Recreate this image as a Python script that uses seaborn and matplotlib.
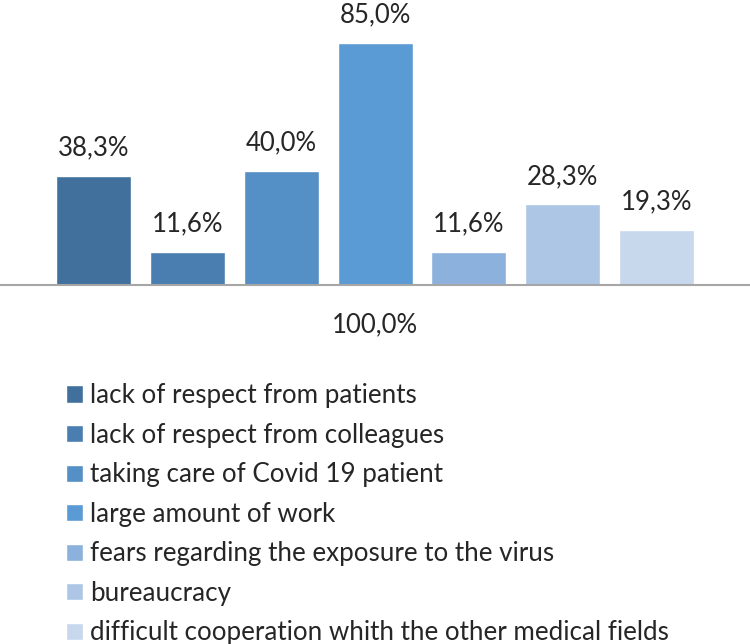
import matplotlib
matplotlib.use("Agg")
import matplotlib.pyplot as plt
import pandas as pd
import seaborn as sns

# data
category = "100,0%"
reasons = [
    "lack of respect from patients",
    "lack of respect from colleagues",
    "taking care of Covid 19 patient",
    "large amount of work",
    "fears regarding the exposure to the virus",
    "bureaucracy",
    "difficult cooperation whith the other medical fields",
]
values = [38.3, 11.6, 40.0, 85.0, 11.6, 28.3, 19.3]
colors = ["#41709C", "#4A7EB0", "#548FC6", "#5B9BD5", "#8DB1DD", "#ADC6E6", "#C7D7EC"]

df = pd.DataFrame({"cat": [category] * len(reasons), "reason": reasons, "value": values})

sns.set_style("white")
plt.rcParams["font.family"] = ["Lato", "DejaVu Sans"]

fig = plt.figure(figsize=(7.5, 6.44), dpi=100)
ax = fig.add_axes([0, 0.5575, 1, 0.4425])

sns.barplot(
    data=df, x="cat", y="value", hue="reason", hue_order=reasons,
    palette=colors, width=0.875, gap=0.2, saturation=1, ax=ax,
)

for cont, v in zip(ax.containers, values):
    ax.bar_label(cont, labels=[f"{v:.1f}%".replace(".", ",")], padding=11, fontsize=18.5)

ax.set_ylim(0, 100)
ax.set_xlim(-0.5, 0.5)
ax.set_xlabel("")
ax.set_ylabel("")
ax.set_yticks([])
ax.tick_params(axis="x", length=0, pad=20, labelsize=18.5)
for side in ["top", "left", "right"]:
    ax.spines[side].set_visible(False)
ax.spines["bottom"].set_color("#A6A6A6")
ax.spines["bottom"].set_linewidth(1.5)

sns.move_legend(
    ax, "upper left", bbox_to_anchor=(0.088, 0.405), bbox_transform=fig.transFigure,
    title=None, frameon=False, fontsize=18.7, handlelength=0.64, handleheight=0.64,
    handletextpad=0.3, labelspacing=0.56, borderaxespad=0, borderpad=0,
)

fig.savefig("out.png", dpi=100)
